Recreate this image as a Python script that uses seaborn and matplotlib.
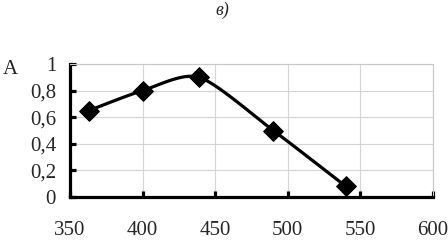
import numpy as np
import seaborn as sns
import matplotlib.pyplot as plt
import pandas as pd

# длина волны и оптическая плотность
wavelength = [363, 400, 439, 490, 540]
absorb = [0.65, 0.80, 0.90, 0.50, 0.08]
x_ticks = [350, 400, 450, 500, 550, 600]
y_ticks = [0, 0.2, 0.4, 0.6, 0.8, 1.0]

df = pd.DataFrame({'x': wavelength, 'y': absorb})


def smooth(x, y, n=30, k=0.38):
    # сглаженная линия как в Excel
    p = np.column_stack([x, y]).astype(float)
    p = np.vstack([p[0], p, p[-1]])
    out = []
    t = np.linspace(0, 1, n)[:, None]
    for i in range(1, len(p) - 2):
        p0, p1, p2, p3 = p[i - 1], p[i], p[i + 1], p[i + 2]
        m1 = k * (p2 - p0)
        m2 = k * (p3 - p1)
        h00 = 2 * t ** 3 - 3 * t ** 2 + 1
        h10 = t ** 3 - 2 * t ** 2 + t
        h01 = -2 * t ** 3 + 3 * t ** 2
        h11 = t ** 3 - t ** 2
        out.append(h00 * p1 + h10 * m1 + h01 * p2 + h11 * m2)
    c = np.vstack(out)
    return pd.DataFrame({'x': c[:, 0], 'y': c[:, 1]})


sns.set_style('white')
plt.rcParams['font.family'] = ['Liberation Serif', 'DejaVu Serif']

fig = plt.figure(figsize=(4.48, 2.4), dpi=100)
ax = fig.add_axes([70 / 448, 43 / 240, 363 / 448, 133 / 240])

curve = smooth(df['x'], df['y'])
sns.lineplot(data=curve, x='x', y='y', sort=False, color='black', lw=2.3, ax=ax)
sns.scatterplot(data=df, x='x', y='y', marker='D', s=100, color='black',
                edgecolor='black', zorder=5, ax=ax)

ax.set_xlim(350, 600)
ax.set_ylim(0, 1)
ax.set_xticks(x_ticks)
ax.set_yticks(y_ticks)
ax.set_xticklabels([str(v) for v in x_ticks])
ax.set_yticklabels(['0' if v == 0 else ('1' if v == 1 else f'{v:.1f}'.replace('.', ','))
                    for v in y_ticks])
ax.set_xlabel('')
ax.set_ylabel('')
ax.grid(True, color='#d4d4d4', lw=0.8)
ax.set_axisbelow(True)

for s in ['top', 'right']:
    ax.spines[s].set_color('#c8c8c8')
    ax.spines[s].set_linewidth(0.8)
for s in ['left', 'bottom']:
    ax.spines[s].set_color('black')
    ax.spines[s].set_linewidth(2.3)

ax.tick_params(axis='both', direction='in', length=4, width=2.3, labelsize=15,
               color='black')
ax.tick_params(axis='x', pad=17, bottom=True)
ax.tick_params(axis='y', pad=10, left=True)

fig.text(10 / 448, 1 - 69 / 240, 'A', fontsize=15, ha='center', va='center')
fig.text(222 / 448, 1 - 10 / 240, 'в)', fontsize=13, style='italic',
         ha='center', va='center')

fig.savefig('out.png', dpi=100)
